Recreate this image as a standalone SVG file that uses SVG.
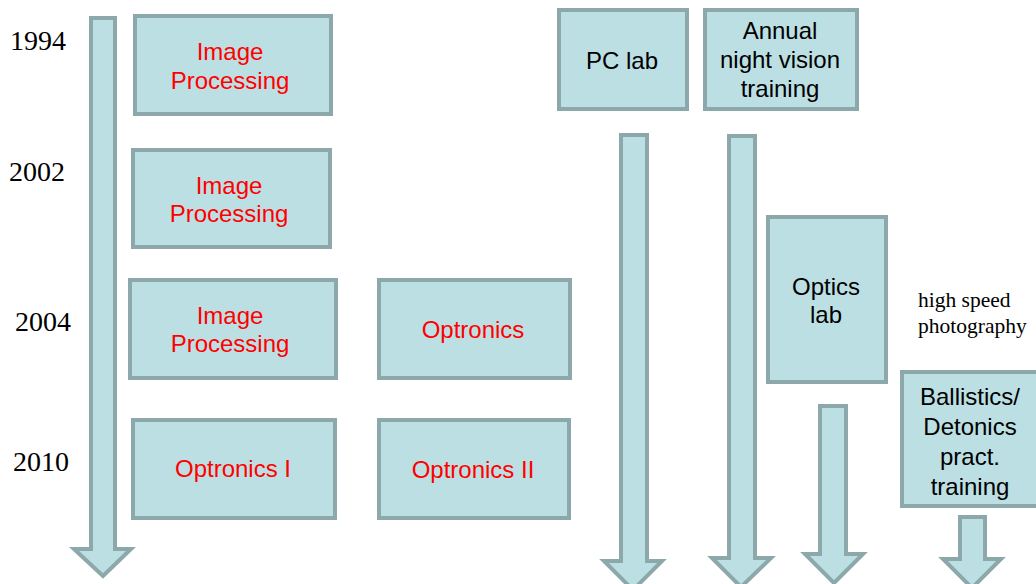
<svg xmlns="http://www.w3.org/2000/svg" width="1036" height="584" viewBox="0 0 1036 584">
<style>
.shape{fill:#BCDFE3;stroke:#8DA8AB;stroke-width:4;stroke-linejoin:miter}
.red{font-family:"Liberation Sans",Arial,sans-serif;font-size:24px;fill:#FF0000;text-anchor:middle}
.blk{font-family:"Liberation Sans",Arial,sans-serif;font-size:24px;fill:#000;text-anchor:middle}
.year{font-family:"Liberation Serif","Times New Roman",serif;font-size:28px;fill:#000}
.note{font-family:"Liberation Serif","Times New Roman",serif;font-size:21.5px;fill:#000}
</style>
<rect width="1036" height="584" fill="#fff"/>
<g id="connectors">
<polygon class="shape" points="91,18 115,18 115,549 131,549 103,576 74,549 91,549"/>
<polygon class="shape" points="621,135 647,135 647,561 662,561 633,590 604,561 621,561"/>
<polygon class="shape" points="729,136 755,136 755,558 771,558 741,587 712,558 729,558"/>
<polygon class="shape" points="820,406 846,406 846,554 863,554 834,583 805,554 820,554"/>
<polygon class="shape" points="960,517 985,517 985,559 1001,559 972,588 943,559 960,559"/>
</g>
<g id="years">
<text class="year" x="10" y="50">1994</text>
<text class="year" x="9" y="181">2002</text>
<text class="year" x="15" y="331">2004</text>
<text class="year" x="13" y="471">2010</text>
</g>
<g id="node-ip1">
<rect class="shape" x="135" y="16" width="196" height="98"/>
<text class="red" x="230" y="60">Image</text>
<text class="red" x="230" y="89">Processing</text>
</g>
<g id="node-ip2">
<rect class="shape" x="133" y="150" width="197" height="97"/>
<text class="red" x="229" y="194">Image</text>
<text class="red" x="229" y="222">Processing</text>
</g>
<g id="node-ip3">
<rect class="shape" x="130" y="280" width="206" height="98"/>
<text class="red" x="230" y="324">Image</text>
<text class="red" x="230" y="352">Processing</text>
</g>
<g id="node-optronics">
<rect class="shape" x="379" y="280" width="191" height="98"/>
<text class="red" x="473" y="338">Optronics</text>
</g>
<g id="node-optronics1">
<rect class="shape" x="133" y="420" width="202" height="98"/>
<text class="red" x="233" y="477">Optronics I</text>
</g>
<g id="node-optronics2">
<rect class="shape" x="379" y="420" width="190" height="98"/>
<text class="red" x="473" y="478">Optronics II</text>
</g>
<g id="node-pclab">
<rect class="shape" x="559" y="10" width="128" height="99"/>
<text class="blk" x="622" y="69">PC lab</text>
</g>
<g id="node-annual">
<rect class="shape" x="705" y="10" width="152" height="99"/>
<text class="blk" x="780" y="39">Annual</text>
<text class="blk" x="780" y="68">night vision</text>
<text class="blk" x="780" y="97">training</text>
</g>
<g id="node-optics">
<rect class="shape" x="768" y="217" width="118" height="165"/>
<text class="blk" x="826" y="295">Optics</text>
<text class="blk" x="826" y="323">lab</text>
</g>
<g id="note-hsp">
<text class="note" x="918" y="307">high speed</text>
<text class="note" x="918" y="333">photography</text>
</g>
<g id="node-ballistics">
<rect class="shape" x="902" y="372" width="140" height="134"/>
<text class="blk" x="970" y="405">Ballistics/</text>
<text class="blk" x="970" y="435">Detonics</text>
<text class="blk" x="970" y="465">pract.</text>
<text class="blk" x="970" y="495">training</text>
</g>
</svg>
